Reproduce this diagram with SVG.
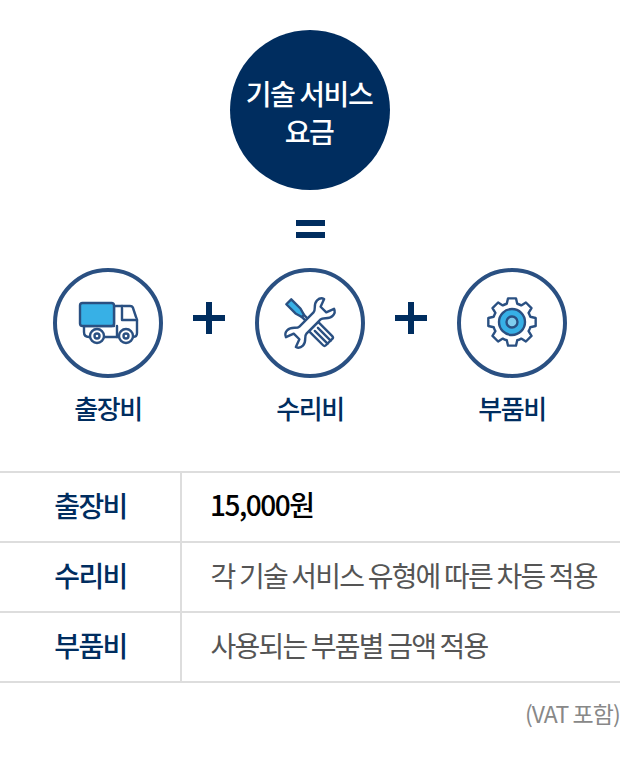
<svg xmlns="http://www.w3.org/2000/svg" width="620" height="758" viewBox="0 0 620 758">
<style>
text{font-family:"Noto Sans CJK KR","Noto Sans",sans-serif;text-anchor:middle}
.navy{fill:#002d5f}
.ring{fill:#fff;stroke:#2a5082;stroke-width:4}
.lbl{font-size:26px;font-weight:500;fill:#002d5f;letter-spacing:-1.4px}
.head{font-size:28px;font-weight:500;fill:#002d5f;letter-spacing:-1.6px}
.desc{font-size:28px;font-weight:400;fill:#555;letter-spacing:-1.8px;text-anchor:start}
.ln{stroke:#ddd;stroke-width:2;fill:none}
.ic{fill:#fff;stroke:#2a5082;stroke-width:2.4;stroke-linejoin:round;stroke-linecap:round}
.bl{fill:#37b0e6;stroke:#2a5082;stroke-width:2.4;stroke-linejoin:round}
</style>
<rect width="620" height="758" fill="#fff"/>
<g id="total">
<circle cx="310" cy="110" r="80" class="navy"/>
<text x="309" y="105" font-size="28" font-weight="500" fill="#fff" letter-spacing="-1.4">기술 서비스</text>
<text x="309" y="143" font-size="28" font-weight="500" fill="#fff" letter-spacing="-1.4">요금</text>
</g>
<g id="operators" class="navy">
<rect x="296" y="220" width="29" height="6"/><rect x="296" y="232" width="29" height="6"/>
<rect x="193" y="315" width="32" height="6"/><rect x="206" y="302" width="6" height="32"/>
<rect x="395" y="315" width="32" height="6"/><rect x="408" y="302" width="6" height="32"/>
</g>
<g id="trip">
<circle cx="108" cy="323" r="53" class="ring"/>
<path class="ic" d="M84 326V332Q84 337 89 337H133Q137 337 137 333V320L133 308Q132.500 306 130 306H114V326Z"/>
<path class="ic" fill="none" d="M122 306V320H137M117 326V337"/>
<rect x="80" y="303" width="34" height="23" rx="2.500" class="bl"/>
<circle cx="97" cy="336" r="7" class="ic"/><circle cx="97" cy="336" r="2.500" class="ic"/>
<circle cx="126" cy="336" r="7" class="ic"/><circle cx="126" cy="336" r="2.500" class="ic"/>
<text x="108" y="419" class="lbl">출장비</text>
</g>
<g id="repair">
<circle cx="310" cy="323" r="53" class="ring"/>
<g transform="rotate(45 310 323) translate(310 323)">
<path class="ic" d="M-13 -1.500H8V1.500H-13Z"/>
<path class="ic" d="M5 -6.500H25Q27 -6.500 27 -4.500V4.500Q27 6.500 25 6.500H5Z"/>
<path class="ic" d="M9 -2.200H27M9 2.200H27" fill="none"/>
<path class="bl" d="M-30 -3.500H-17L-10 -1.500V1.500L-17 3.500H-30Z"/>
</g>
<path class="ic" transform="rotate(-45 310 323) translate(310 323)" d="M-10 -5C-14 -5 -15 -11 -21 -11C-24 -11 -26 -10 -27 -7L-19 -4V4L-27 7C-26 10 -24 11 -21 11C-15 11 -14 5 -10 5H10C14 5 15 11 21 11C24 11 26 10 27 7L19 4V-4L27 -7C26 -10 24 -11 21 -11C15 -11 14 -5 10 -5Z"/>
<text x="310" y="419" class="lbl">수리비</text>
</g>
<g id="parts">
<circle cx="512" cy="323" r="53" class="ring"/>
<path class="ic" transform="translate(512 322)" d="M18.26 -5.240L23.670 -3.960V3.960L18.260 5.240A19 19 0 0 1 16.600 9.200L19.500 13.900L13.900 19.500L9.200 16.600A19 19 0 0 1 5.240 18.260L3.960 23.670H-3.960L-5.240 18.260A19 19 0 0 1 -9.200 16.600L-13.900 19.500L-19.500 13.900L-16.600 9.200A19 19 0 0 1 -18.260 5.240L-23.670 3.960V-3.960L-18.260 -5.240A19 19 0 0 1 -16.600 -9.200L-19.500 -13.900L-13.900 -19.500L-9.200 -16.600A19 19 0 0 1 -5.240 -18.260L-3.960 -23.670H3.960L5.240 -18.260A19 19 0 0 1 9.200 -16.600L13.900 -19.500L19.500 -13.900L16.600 -9.200A19 19 0 0 1 18.260 -5.240Z"/>
<circle cx="512" cy="322" r="13" class="bl"/>
<circle cx="512" cy="322" r="5.500" fill="#7fcdee" stroke="#2a5082" stroke-width="2.400"/>
<text x="512" y="419" class="lbl">부품비</text>
</g>
<g id="table">
<path class="ln" d="M0 472H620M0 542H620M0 612H620M0 682H620M181 472V682"/>
<text x="90.500" y="517" class="head">출장비</text>
<text x="90.500" y="587" class="head">수리비</text>
<text x="90.500" y="657" class="head">부품비</text>
<text x="210" y="516" class="desc" style="fill:#000;font-weight:500;letter-spacing:-1.500px">15,000원</text>
<text x="210.500" y="587" class="desc">각 기술 서비스 유형에 따른 차등 적용</text>
<text x="210.500" y="657" class="desc">사용되는 부품별 금액 적용</text>
<text x="620" y="723" font-size="23" fill="#888" letter-spacing="-0.900" style="text-anchor:end">(VAT 포함)</text>
</g>
</svg>
